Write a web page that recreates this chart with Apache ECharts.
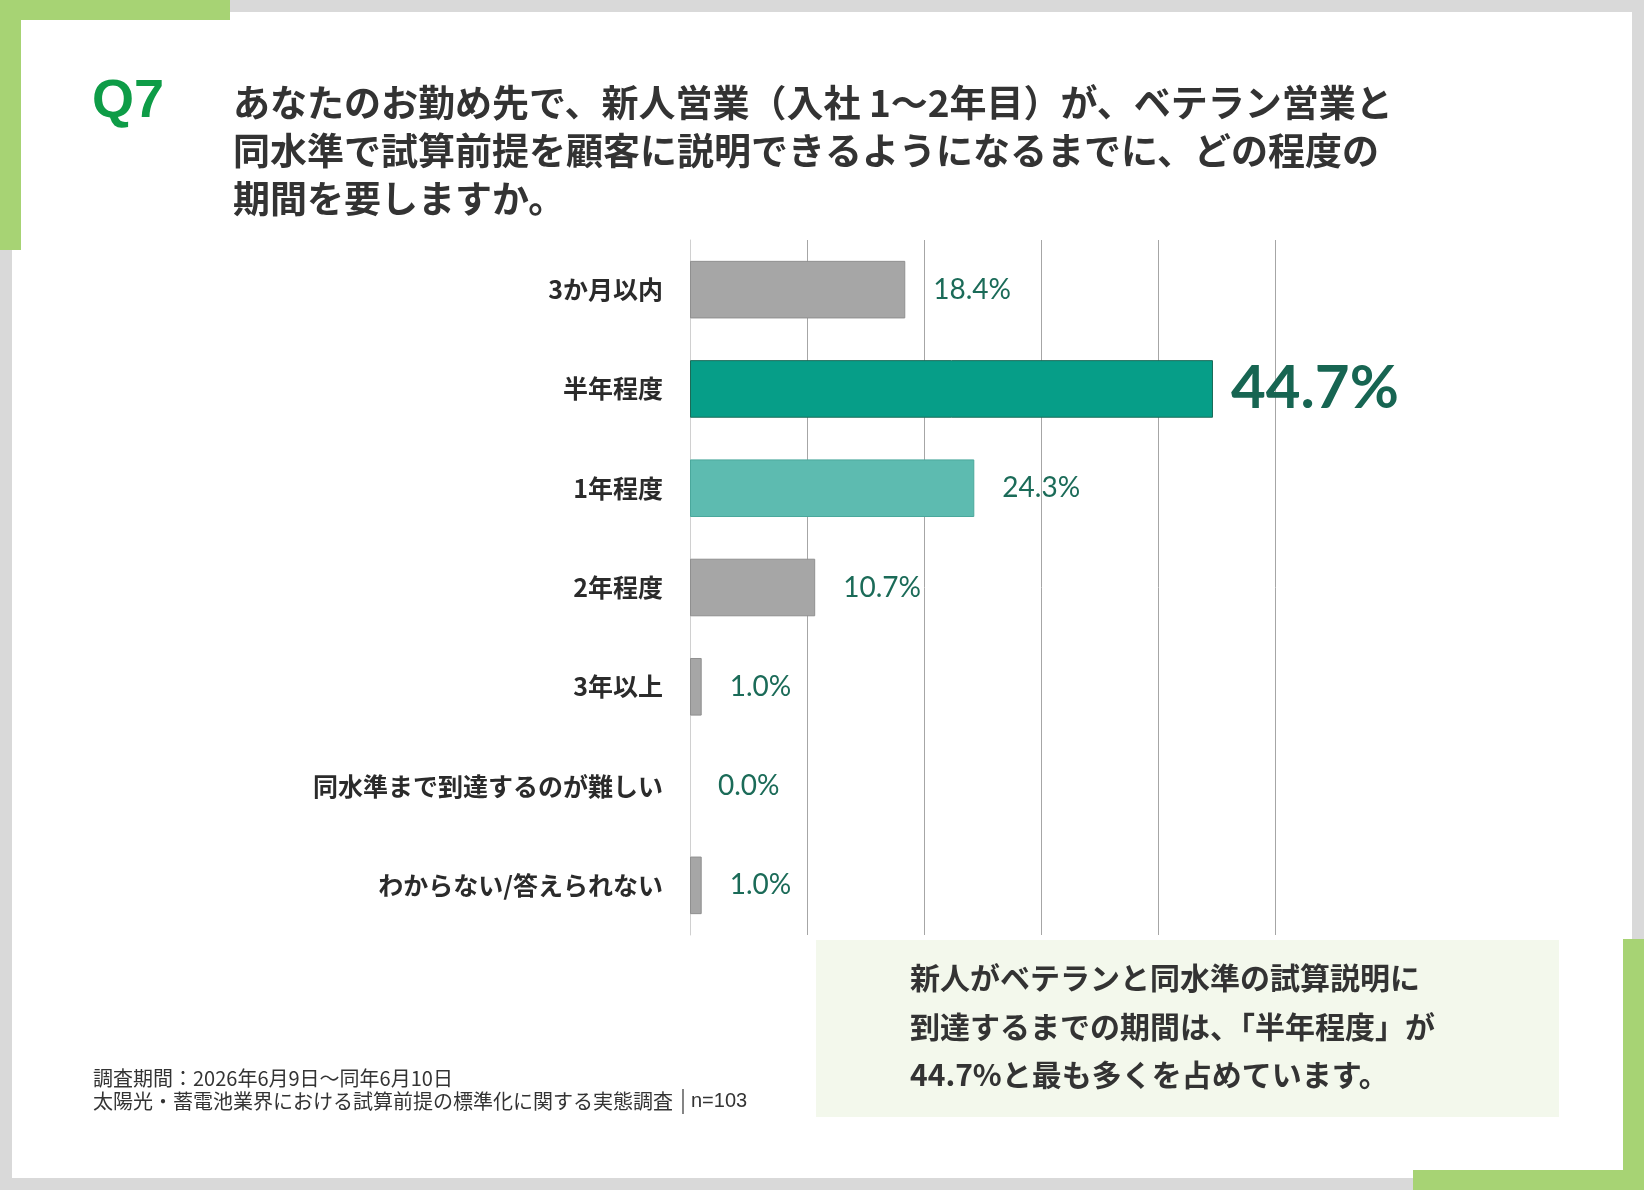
<!DOCTYPE html>
<html>
<head>
<meta charset="utf-8">
<script src="https://cdn.jsdelivr.net/npm/echarts@6/dist/echarts.min.js"></script>
<style>
html,body{margin:0;padding:0;background:#d9d9d9;}
#chart{width:1644px;height:1190px;}
</style>
</head>
<body>
<div id="chart"></div>
<script>
// ---- data ----
const categories = ['3か月以内', '半年程度', '1年程度', '2年程度', '3年以上', '同水準まで到達するのが難しい', 'わからない/答えられない'];
const values = [18.4, 44.7, 24.3, 10.7, 1.0, 0.0, 1.0];
const xTicks = [0, 10, 20, 30, 40, 50];
const titleLines = [
  'あなたのお勤め先で、新人営業（入社 1～2年目）が、ベテラン営業と',
  '同水準で試算前提を顧客に説明できるようになるまでに、どの程度の',
  '期間を要しますか。'
];
const calloutLines = [
  '新人がベテランと同水準の試算説明に',
  '到達するまでの期間は、「半年程度」が',
  '44.7%と最も多くを占めています。'
];
const footerLines = [
  '調査期間：2026年6月9日～同年6月10日',
  '太陽光・蓄電池業界における試算前提の標準化に関する実態調査'
];
const sampleText = 'n=103';

// ---- styles ----
const GREEN = '#a7d374';
const barStyles = {
  1: { color: '#069e88', borderColor: '#1b6b58' },
  2: { color: '#5dbbb0', borderColor: '#4aa89c' }
};
const grayBar = { color: '#a6a6a6', borderColor: '#8f8f8f' };
const labelColor = '#1b6b58';
const jp = '"Noto Sans CJK JP", "Noto Sans", sans-serif';

const seriesData = values.map((v, i) => {
  const st = barStyles[i] || grayBar;
  const d = { value: v, itemStyle: { color: st.color, borderColor: st.borderColor, borderWidth: v > 0 ? 1 : 0 } };
  if (i === 1) {
    d.label = { fontSize: 60, fontWeight: 'bold', distance: 18, color: '#176552' };
  }
  return d;
});

const graphics = [
  { type: 'rect', z: -20, shape: { x: 12, y: 12, width: 1620, height: 1166 }, style: { fill: '#ffffff' }, silent: true },
  { type: 'rect', z: -19, shape: { x: 0, y: 0, width: 230, height: 20 }, style: { fill: GREEN }, silent: true },
  { type: 'rect', z: -19, shape: { x: 0, y: 0, width: 21, height: 250 }, style: { fill: GREEN }, silent: true },
  { type: 'rect', z: -19, shape: { x: 1623, y: 939, width: 21, height: 251 }, style: { fill: GREEN }, silent: true },
  { type: 'rect', z: -19, shape: { x: 1413, y: 1170, width: 231, height: 20 }, style: { fill: GREEN }, silent: true },
  { type: 'rect', z: -18, shape: { x: 816, y: 940, width: 743, height: 177 }, style: { fill: '#f3f8ec' }, silent: true },
  { type: 'text', x: 92, y: 102, style: { text: 'Q7', fill: '#0e9c47', font: 'bold 54px "Liberation Sans", Arial, sans-serif', textVerticalAlign: 'middle' } }
];
titleLines.forEach((t, i) => {
  graphics.push({ type: 'text', x: 233, y: 103 + i * 48, style: { text: t, fill: '#333333', font: 'bold 37px ' + jp, textVerticalAlign: 'middle' } });
});
calloutLines.forEach((t, i) => {
  graphics.push({ type: 'text', x: 910, y: 978 + i * 48.5, style: { text: t, fill: '#333333', font: 'bold 30px ' + jp, textVerticalAlign: 'middle' } });
});
footerLines.forEach((t, i) => {
  graphics.push({ type: 'text', x: 93, y: 1078 + i * 23, style: { text: t, fill: '#333333', font: '20px ' + jp, textVerticalAlign: 'middle' } });
});
graphics.push({ type: 'line', shape: { x1: 683, y1: 1089, x2: 683, y2: 1114 }, style: { stroke: '#333333', lineWidth: 1.2 } });
graphics.push({ type: 'text', x: 691, y: 1101, style: { text: sampleText, fill: '#333333', font: '20px "Liberation Sans", Arial, sans-serif', textVerticalAlign: 'middle' } });

const chart = echarts.init(document.getElementById('chart'));
chart.setOption({
  backgroundColor: '#d9d9d9',
  animation: false,
  grid: { left: 690, right: 369, top: 240, bottom: 255, containLabel: false },
  xAxis: {
    type: 'value',
    min: xTicks[0],
    max: xTicks[xTicks.length - 1],
    interval: xTicks[1] - xTicks[0],
    axisLabel: { show: false },
    axisLine: { show: false },
    axisTick: { show: false },
    splitLine: { show: true, lineStyle: { color: '#a6a6a6', width: 1 } }
  },
  yAxis: {
    type: 'category',
    data: categories,
    inverse: true,
    axisLine: { show: true, lineStyle: { color: '#d0d0d0', width: 1 } },
    axisTick: { show: false },
    axisLabel: { margin: 27, color: '#2b2b2b', fontSize: 25, fontWeight: 'bold', fontFamily: jp }
  },
  series: [{
    type: 'bar',
    data: seriesData,
    barWidth: '58%',
    label: {
      show: true,
      position: 'right',
      distance: 28,
      color: labelColor,
      fontSize: 28,
      fontFamily: 'Lato, "Open Sans", sans-serif',
      formatter: p => p.value.toFixed(1) + '%'
    }
  }],
  graphic: graphics
});
</script>
</body>
</html>
